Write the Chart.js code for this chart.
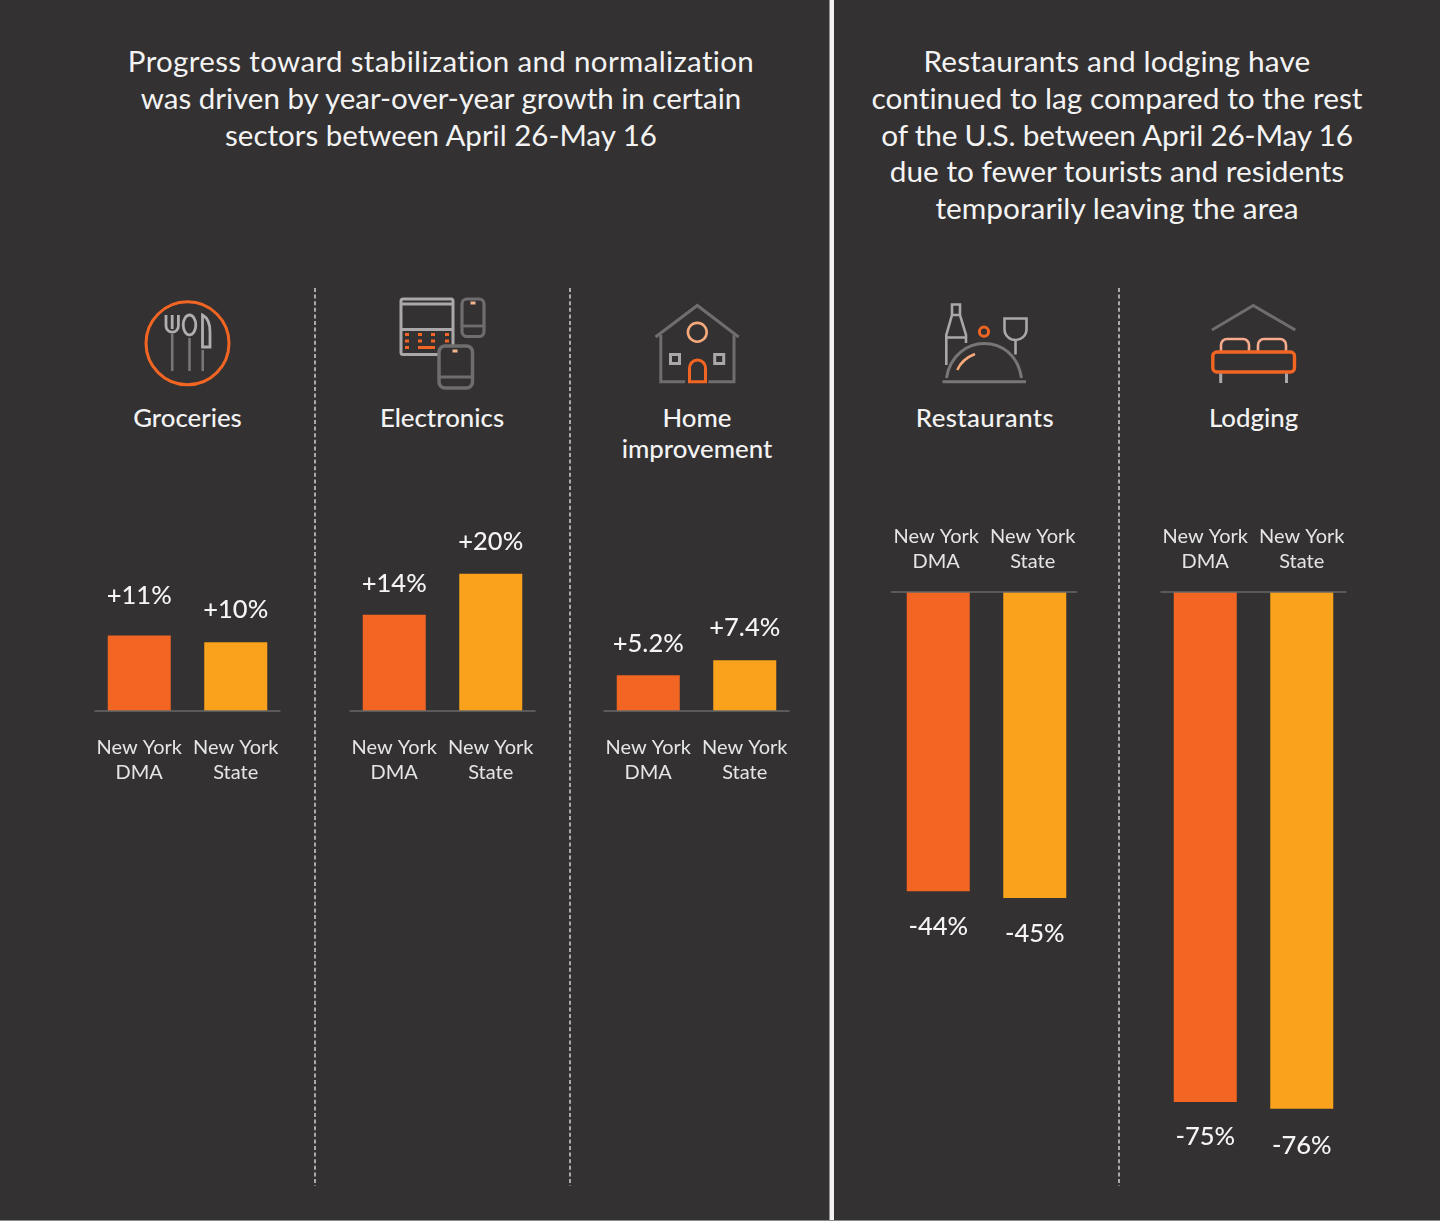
<!DOCTYPE html>
<html>
<head>
<meta charset="utf-8">
<style>
  html, body { margin: 0; padding: 0; background: #333132; }
  #page { position: relative; width: 1440px; height: 1221px; overflow: hidden; background: #333132; font-family: Lato, sans-serif; color: #f4f3f3; font-variant-ligatures: none; }
  #page svg { position: absolute; left: 0; top: 0; }
  .box { position: absolute; }
  .box canvas { display: block; }
  .head { position: absolute; text-align: center; line-height: 36.8px; white-space: nowrap; transform: translateX(-50%); }
  .name { position: absolute; text-align: center; font-size: 25.8px; line-height: 31px; font-weight: 500; white-space: nowrap; transform: translateX(-50%); }
</style>
</head>
<body>
<div id="page">
  <svg width="1440" height="1221" fill="none" stroke-linecap="butt">
    <!-- separadores -->
    <rect x="829.5" y="0" width="4.5" height="1221" fill="#f1f1f1"/>
    <rect x="0" y="1220" width="1440" height="1" fill="#8b8a8a"/>
    <g stroke="#c9c8c8" stroke-width="1.6" stroke-dasharray="4 2.6">
      <path d="M315 288V1186M570 288V1186M1119 288V1186"/>
    </g>

    <!-- groceries -->
    <circle cx="187.5" cy="343.3" r="41.5" stroke="#f26522" stroke-width="3"/>
    <g stroke="#b0aeae" stroke-width="2.8">
      <path d="M166 315v11a6.2 6.2 0 0 0 12.4 0v-11M172.2 315v14"/>
      <ellipse cx="189.5" cy="325" rx="6.3" ry="10"/>
      <path d="M202.5 315C208 318 210 325 210 332V347H202.5Z"/>
    </g>
    <path d="M172.2 334V371M189.5 338V371M202.7 350V371" stroke="#787677" stroke-width="2.6"/>

    <!-- electronics -->
    <g stroke="#aaa8a8" stroke-width="3">
      <rect x="401" y="299" width="52" height="55.5" rx="2"/>
      <path d="M401 304H453M401 329.5H453"/>
    </g>
    <g fill="#f26522">
      <rect x="405" y="333" width="4" height="3"/><rect x="418" y="333" width="4" height="3"/><rect x="431" y="333" width="4" height="3"/><rect x="445" y="333" width="4" height="3"/>
      <rect x="405" y="339.5" width="4" height="3"/><rect x="418" y="339.5" width="4" height="3"/><rect x="431" y="339.5" width="4" height="3"/><rect x="445" y="339.5" width="4" height="3"/>
      <rect x="405" y="346" width="4" height="3"/><rect x="418" y="346" width="17" height="3"/>
    </g>
    <rect x="439" y="346" width="33.5" height="42" rx="6" fill="#333132" stroke="#6f6d6e" stroke-width="3.5"/>
    <path d="M439 377H472.5" stroke="#6f6d6e" stroke-width="3"/>
    <rect x="452.5" y="349.5" width="5" height="3" fill="#f6b48e"/>
    <rect x="462" y="299" width="22" height="37.5" rx="5" fill="#333132" stroke="#6f6d6e" stroke-width="3.2"/>
    <path d="M462 326H484" stroke="#6f6d6e" stroke-width="2.8"/>
    <rect x="470.5" y="301.5" width="5" height="3" fill="#f6b48e"/>

    <!-- home improvement -->
    <path d="M655.5 337L697.3 305.5L738.7 337" stroke="#6f6d6e" stroke-width="3"/>
    <path d="M660.8 335V381.7H685M708.3 381.7H734V335" stroke="#6f6d6e" stroke-width="3"/>
    <circle cx="697.3" cy="332.3" r="9.4" stroke="#f6a97a" stroke-width="2.6"/>
    <rect x="670.5" y="354.5" width="9" height="9" stroke="#aaa8a8" stroke-width="3"/>
    <rect x="714.7" y="354.5" width="9" height="9" stroke="#aaa8a8" stroke-width="3"/>
    <path d="M689.5 382V368a8 8 0 0 1 16 0V382M688 381.7H707" stroke="#f26522" stroke-width="3"/>

    <!-- restaurants -->
    <g stroke="#aaa8a8" stroke-width="2.6">
      <path d="M946.3 365V335L952 315V304.5H960V315L966 335V343M946.3 337.5H966M952 315H960"/>
      <path d="M1004.5 318.5H1026.5V329C1026.5 336 1021 340 1015.5 340C1010 340 1004.5 336 1004.5 329ZM1015.5 340V354.5"/>
    </g>
    <circle cx="984" cy="331.7" r="4.6" stroke="#f26522" stroke-width="3"/>
    <path d="M946.5 378C950 355 968 343.5 984 343.5C1002 343.5 1018 355 1021.5 378" stroke="#787677" stroke-width="3"/>
    <path d="M942.5 381.7H1026" stroke="#787677" stroke-width="3"/>
    <path d="M957.3 370Q962 359 975 354" stroke="#f6a97a" stroke-width="2.5"/>

    <!-- lodging -->
    <path d="M1212 330L1253.3 305.5L1295.3 330" stroke="#6f6d6e" stroke-width="3"/>
    <path d="M1221 351V345a6 6 0 0 1 6-6H1243a6 6 0 0 1 6 6V351M1258 351V345a6 6 0 0 1 6-6H1280a6 6 0 0 1 6 6V351" stroke="#f7ab8c" stroke-width="2.6"/>
    <rect x="1212.8" y="352" width="81.7" height="20" rx="4" stroke="#f26522" stroke-width="3.4"/>
    <path d="M1220.7 373.5V383M1286.5 373.5V383" stroke="#aaa8a8" stroke-width="3"/>
  </svg>

  <div class="head" style="left:441px;top:43px;font-size:29.5px"><span style="letter-spacing:.35px">Progress toward stabilization and normalization</span><br>was driven by year-over-year growth in certain<br>sectors between April 26-May 16</div>
  <div class="head" style="left:1117px;top:43px;font-size:29.8px"><span style="letter-spacing:.18px">Restaurants and lodging have</span><br>continued to lag compared to the rest<br><span style="letter-spacing:-.2px">of the U.S. between April 26-May 16</span><br>due to fewer tourists and residents<br>temporarily leaving the area</div>

  <div class="name" style="left:187.5px;top:401.5px">Groceries</div>
  <div class="name" style="left:442px;top:401.5px">Electronics</div>
  <div class="name" style="left:697px;top:401.5px">Home<br>improvement</div>
  <div class="name" style="left:985px;top:401.5px;letter-spacing:.4px">Restaurants</div>
  <div class="name" style="left:1253.5px;top:401.5px">Lodging</div>

  <div class="box" style="left:91px;top:505px"><canvas id="graficoGroceries" width="193" height="286"></canvas></div>
  <div class="box" style="left:346px;top:505px"><canvas id="graficoElectronics" width="193" height="286"></canvas></div>
  <div class="box" style="left:600px;top:505px"><canvas id="graficoHome" width="193" height="286"></canvas></div>
  <div class="box" style="left:890px;top:512px"><canvas id="graficoRestaurants" width="193" height="692"></canvas></div>
  <div class="box" style="left:1157px;top:512px"><canvas id="graficoLodging" width="193" height="692"></canvas></div>
</div>

<script src="https://cdn.jsdelivr.net/npm/chart.js@4"></script>
<script>
const regiones = [['New York', 'DMA'], ['New York', 'State']];
const colores = ['#f26522', '#faa21b'];

const valoresGroceries = [11, 10];
const valoresElectronics = [14, 20];
const valoresHome = [5.2, 7.4];
const valoresRestaurants = [-44, -45];
const valoresLodging = [-75, -76];

const etiquetasGroceries = ['+11%', '+10%'];
const etiquetasElectronics = ['+14%', '+20%'];
const etiquetasHome = ['+5.2%', '+7.4%'];
const etiquetasRestaurants = ['-44%', '-45%'];
const etiquetasLodging = ['-75%', '-76%'];

// Linea base y etiquetas de valor encima o debajo de cada barra
const pluginBarras = {
    id: 'pluginBarras',
    afterDatasetsDraw(chart, args, opts) {
        const { ctx, chartArea, scales } = chart;
        const y0 = scales.y.getPixelForValue(0);
        ctx.save();
        ctx.strokeStyle = '#6a6869';
        ctx.lineWidth = 1.6;
        ctx.beginPath();
        ctx.moveTo(chartArea.left + 3.5 + opts.corrimiento, y0);
        ctx.lineTo(chartArea.right - 3.5 + opts.corrimiento, y0);
        ctx.stroke();

        ctx.font = '500 25.5px Lato, sans-serif';
        ctx.fillStyle = '#f6f5f5';
        ctx.textAlign = 'center';
        ctx.textBaseline = 'middle';
        chart.getDatasetMeta(0).data.forEach((barra, i) => {
            const negativo = chart.data.datasets[0].data[i] < 0;
            const separacion = opts.separacion[i];
            const y = negativo ? barra.y + separacion : barra.y - separacion;
            ctx.fillText(opts.etiquetas[i], barra.x, y);
        });
        ctx.restore();
    }
};

function crearGrafico(canvasId, valores, etiquetas, extra) {
    const canvas = document.getElementById(canvasId);
    const negativo = valores[0] < 0;
    new Chart(canvas, {
        type: 'bar',
        data: {
            labels: regiones,
            datasets: [{
                data: valores,
                backgroundColor: colores,
                barPercentage: 0.653,
                categoryPercentage: 1
            }]
        },
        plugins: [pluginBarras],
        options: {
            responsive: false,
            animation: false,
            layout: { padding: 0, autoPadding: false },
            plugins: {
                legend: { display: false },
                tooltip: { enabled: false },
                pluginBarras: {
                    etiquetas: etiquetas,
                    separacion: extra.separacion,
                    corrimiento: extra.corrimiento || 0
                }
            },
            scales: {
                x: {
                    position: negativo ? 'top' : 'bottom',
                    afterFit(scale) {
                        // altura fija y sin relleno lateral para que el area del grafico ocupe todo el canvas
                        scale.height = 80;
                        scale.paddingLeft = 0;
                        scale.paddingRight = 0;
                    },
                    grid: { display: false, drawTicks: false },
                    border: { display: false },
                    ticks: {
                        color: '#e6e5e5',
                        font: { family: 'Lato, sans-serif', size: 20, lineHeight: 1.25 },
                        padding: negativo ? 18 : 24,
                        maxRotation: 0,
                        autoSkip: false,
                        labelOffset: extra.corrimientoEje || 0
                    }
                },
                y: {
                    display: false,
                    min: negativo ? -90 : 0,
                    max: negativo ? 0 : 30
                }
            }
        }
    });
}

document.addEventListener('DOMContentLoaded', () => {
    crearGrafico('graficoGroceries', valoresGroceries, etiquetasGroceries, { separacion: [40, 33] });
    crearGrafico('graficoElectronics', valoresElectronics, etiquetasElectronics, { separacion: [31, 32] });
    crearGrafico('graficoHome', valoresHome, etiquetasHome, { separacion: [32, 32] });
    crearGrafico('graficoRestaurants', valoresRestaurants, etiquetasRestaurants, { separacion: [36, 36], corrimiento: -2.5, corrimientoEje: -2 });
    crearGrafico('graficoLodging', valoresLodging, etiquetasLodging, { separacion: [35, 37] });
});
</script>
</body>
</html>
